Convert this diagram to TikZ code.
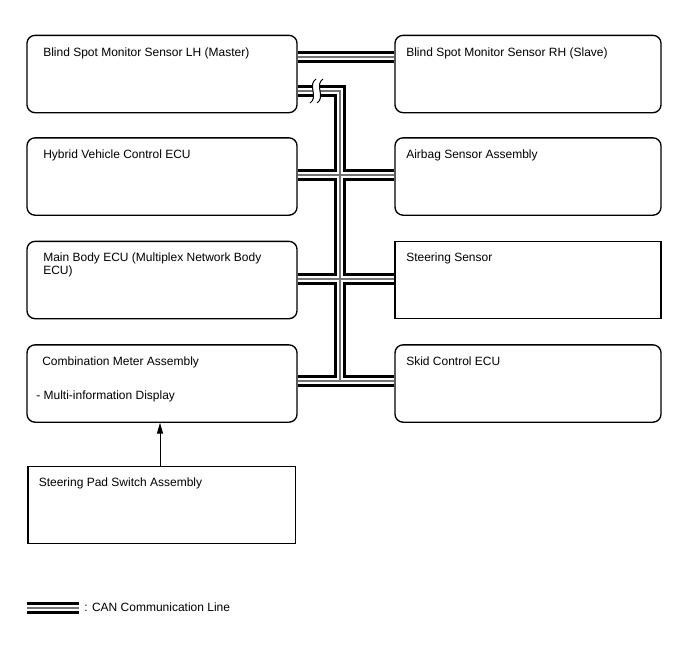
\documentclass[tikz,border=0pt]{standalone}
\usepackage{fontspec}
\setmainfont{Liberation Sans}
\usetikzlibrary{arrows.meta}
\pgfdeclarelayer{background}
\pgfsetlayers{background,main}
\begin{document}
\begin{tikzpicture}[x=0.75pt,y=-0.75pt,
  box/.style={draw,line width=1pt,inner sep=0pt,minimum height=58pt},
  rbox/.style={box,rounded corners=6pt},
  lw/.style={minimum width=202.5pt},
  rw/.style={minimum width=199.5pt},
  txt/.style={anchor=base west,inner sep=0pt,font=\fontsize{9pt}{11pt}\selectfont},
  brk/.style={line width=0.75pt},
  sig/.style={line width=0.6pt,-{Triangle[length=8pt,width=4.5pt]}}]
\useasboundingbox (0,0) rectangle (688,658);

% boxes
\node[rbox,lw] (lh) at (162,74) {};
\node[rbox,rw] (rh) at (528,74) {};
\node[rbox,lw] (hv) at (162,176.5) {};
\node[rbox,rw] (ab) at (528,176.5) {};
\node[rbox,lw] (mb) at (162,280) {};
\node[box,rw]  (ss) at (528,280) {};
\node[rbox,lw] (cm) at (162,383.5) {};
\node[rbox,rw] (sk) at (528,383.5) {};
\node[box,minimum width=200.5pt] (sp) at (161.5,505) {};

% texts
\node[txt] (tlh) at (43,56) {Blind Spot Monitor Sensor LH (Master)};
\node[txt] (trh) at (406,56) {Blind Spot Monitor Sensor RH (Slave)};
\node[txt] (thv) at (43,158) {Hybrid Vehicle Control ECU};
\node[txt] (tab) at (406,158) {Airbag Sensor Assembly};
\node[txt] (tmb) at (43,261) {Main Body ECU (Multiplex Network Body};
\node[txt] (tmb2) at (43,274) {ECU)};
\node[txt] (tss) at (406,261) {Steering Sensor};
\node[txt] (tcm) at (42,365) {Combination Meter Assembly};
\node[txt] (tcm2) at (36,399) {- Multi-information Display};
\node[txt] (tsk) at (406,365) {Skid Control ECU};
\node[txt] (tsp) at (38.5,486) {Steering Pad Switch Assembly};
\node[txt] (tleg) at (84,611) {: CAN Communication Line};

% CAN bus lines
\coordinate (b1) at (313,91);
\coordinate (b2) at (320,91);
\coordinate (bc) at (340,91);
\coordinate (bb) at (340,381);
\coordinate (la) at (27,608);
\coordinate (lb) at (79,608);
\begin{pgfonlayer}{background}
\foreach \w/\c in {8.6pt/black,5pt/white,1pt/black!55}{
  \draw[line width=\w,\c] (lh.east |- 0,57) -- (rh.west |- 0,57);
  \draw[line width=\w,\c] (lh.east |- b1) -- (b1);
  \draw[line width=\w,\c] (b2) -- (bc) -- (bb);
  \draw[line width=\w,\c] (hv.east |- 0,175) -- (ab.west |- 0,175);
  \draw[line width=\w,\c] (mb.east |- 0,279) -- (ss.west |- 0,279);
  \draw[line width=\w,\c] (cm.east |- bb) -- (sk.west |- bb);
  \draw[line width=\w,\c] (la) -- (lb);
}
\end{pgfonlayer}
% break marks
\draw[brk] ([shift={(3,-12)}]b1) .. controls ([shift={(-6,-6)}]b1) and ([shift={(6,6)}]b1) .. ([shift={(-3,12)}]b1);
\draw[brk] ([shift={(3,-12)}]b2) .. controls ([shift={(-6,-6)}]b2) and ([shift={(6,6)}]b2) .. ([shift={(-3,12)}]b2);

% signal arrow
\draw[sig] (sp.north -| 160,0) -- (cm.south -| 160,0);
\end{tikzpicture}
\end{document}
